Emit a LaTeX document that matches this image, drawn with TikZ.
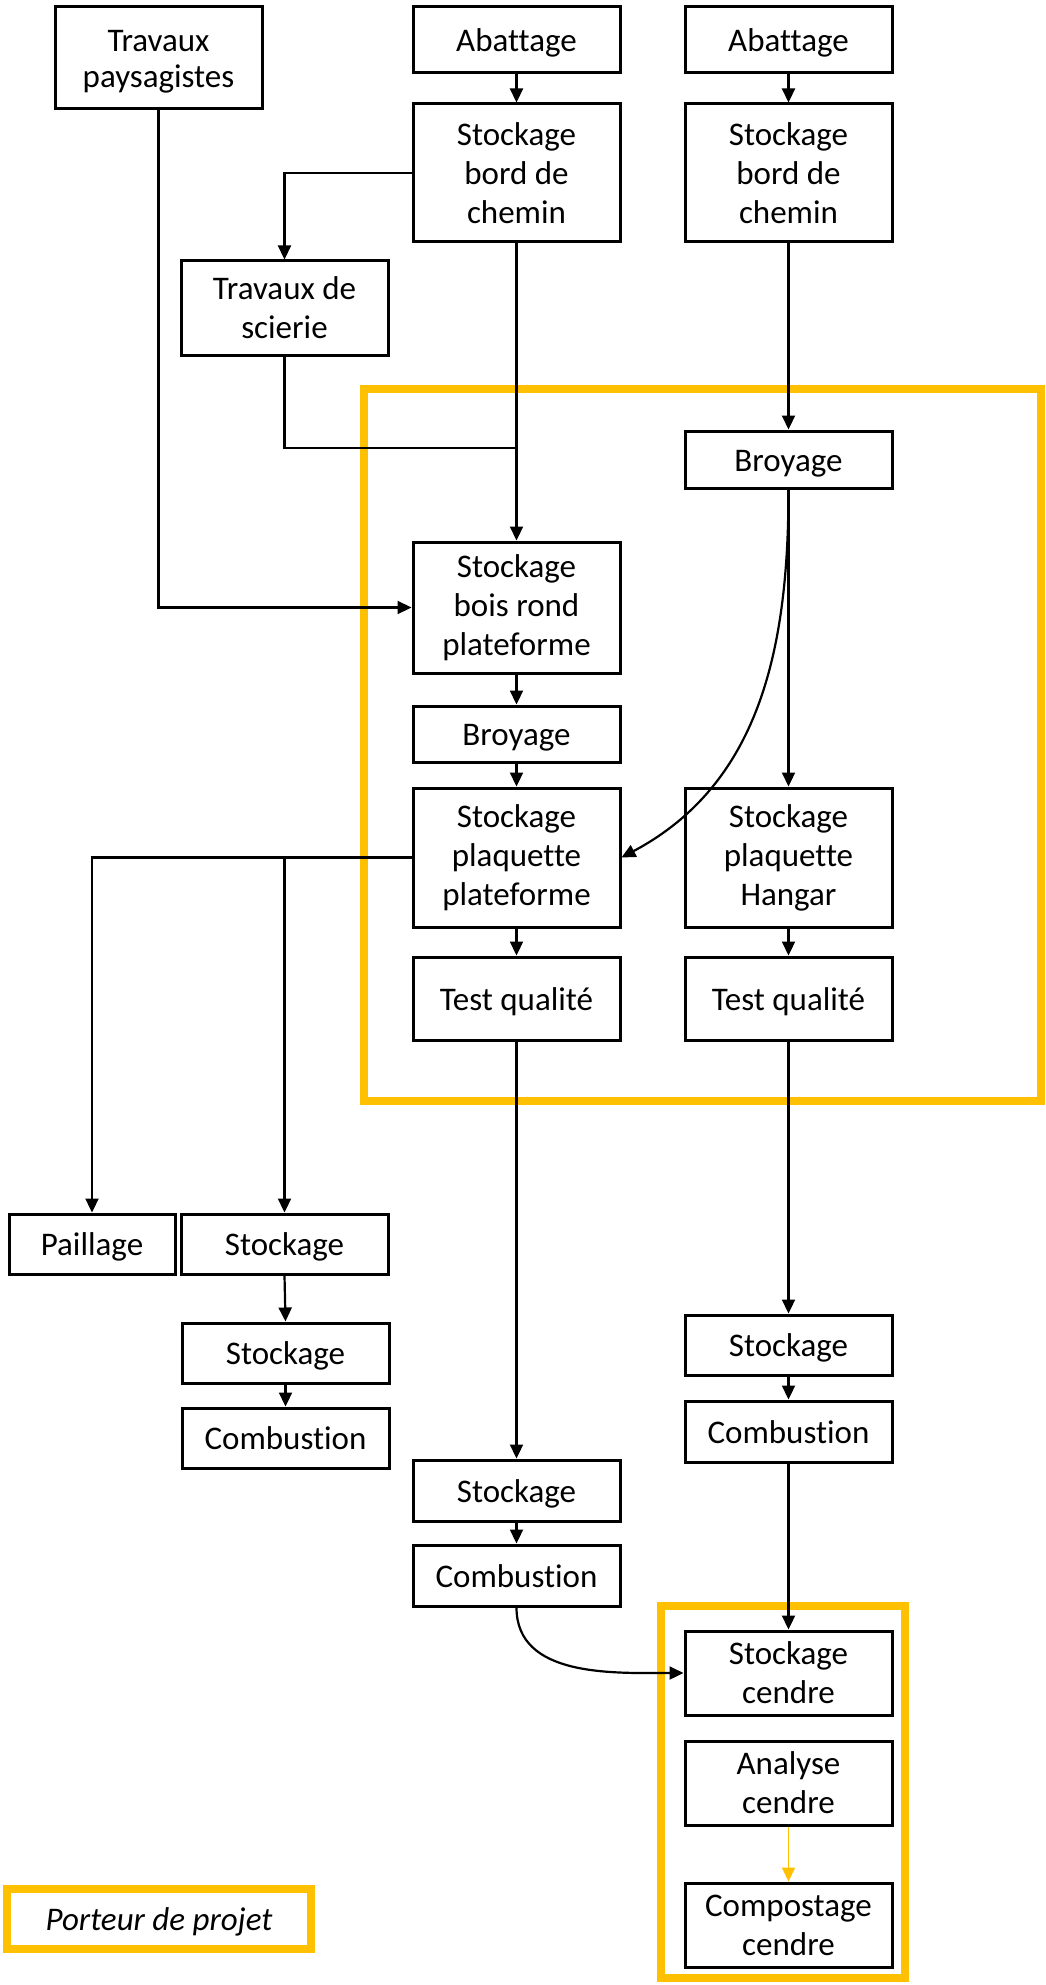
\documentclass[tikz,border=0pt]{standalone}
\usepackage{fontspec}
\setmainfont{Carlito}[Ligatures={NoCommon}]
\usetikzlibrary{arrows.meta,calc}
\definecolor{gold}{HTML}{FFC000}
\newcommand\bx[6]{\node[box, minimum width={(#4-#2)*0.5pt}, minimum height={(#5-#3)*0.5pt}] (#1) at ({(#2+#4)/2},{(#3+#5)/2}) {#6};}
\newcommand\bxo[6]{\node[box, minimum width={(#4-#2)*0.5pt}, minimum height={(#5-#3)*0.5pt}] (#1) at ({(#2+#4)/2},{(#3+#5)/2}) {\lowstrut#6};}
\newcommand\lowstrut{\rule[-0.2em]{0pt}{1.12em}}
\begin{document}
\begin{tikzpicture}[x=0.5pt,y=-0.5pt,
  box/.style={draw, line width=1.5pt, inner sep=0pt, align=center, font=\fontsize{16.5}{19.5}\selectfont},
  arr/.style={line width=1.1pt, -{Triangle[length=7pt,width=6.5pt]}},
  lin/.style={line width=1.1pt},
  gbox/.style={draw=gold, line width=4pt}]
\useasboundingbox (0,0) rectangle (1045,1985);
% yellow frames
\draw[gbox] (364,389) rectangle (1041,1101);
\draw[gbox] (661,1606) rectangle (905,1978);
\node[gbox, minimum width={304*0.5pt}, minimum height={60*0.5pt}, inner sep=0pt, font=\fontsize{16.5}{19.5}\selectfont\itshape] (leg) at (159,1919) {\lowstrut Porteur de projet};
% boxes
\bx{tp}{55}{7}{262}{109}{\rule[-0.25em]{0pt}{1.1em}Travaux\\[-1.5pt]paysagistes}
\bxo{abA}{413}{7}{620}{73}{Abattage}
\bxo{abB}{685}{7}{892}{73}{Abattage}
\bx{sbcA}{413}{104}{620}{242}{Stockage\\bord de\\chemin}
\bx{sbcB}{685}{104}{892}{242}{Stockage\\bord de\\chemin}
\bx{tds}{181}{261}{388}{355}{Travaux de\\scierie}
\bxo{brB}{685}{431}{892}{488}{Broyage}
\bx{sbr}{413}{542}{620}{673}{Stockage\\bois rond\\plateforme}
\bxo{brA}{413}{706}{620}{762}{Broyage}
\bx{spp}{413}{788}{620}{927}{Stockage\\plaquette\\plateforme}
\bx{sph}{685}{788}{892}{927}{Stockage\\plaquette\\Hangar}
\bxo{tqA}{413}{957}{620}{1040}{Test qualité}
\bxo{tqB}{685}{957}{892}{1040}{Test qualité}
\bxo{pai}{9}{1214}{175}{1274}{Paillage}
\bxo{stLa}{181}{1214}{388}{1274}{Stockage}
\bxo{stLb}{182}{1323}{389}{1383}{Stockage}
\bxo{coL}{182}{1408}{389}{1468}{Combustion}
\bxo{stA}{413}{1460}{620}{1521}{Stockage}
\bxo{coA}{413}{1545}{620}{1606}{Combustion}
\bxo{stB}{685}{1315}{892}{1375}{Stockage}
\bxo{coB}{685}{1401}{892}{1462}{Combustion}
\bx{stc}{685}{1631}{892}{1715}{Stockage\\cendre}
\bx{anc}{685}{1741}{892}{1825}{Analyse\\cendre}
\bx{coc}{685}{1883}{892}{1967}{Compostage\\cendre}
% connectors
\draw[arr] (abA) -- (sbcA);
\draw[arr] (abB) -- (sbcB);
\draw[arr] (sbcA.west) -| (tds.north);
\draw[arr] (sbcA) -- (sbr);
\coordinate (j1) at (516.5,448);
\draw[lin] (tds.south) |- (j1);
\draw[arr] (tp.south) |- (sbr.west);
\draw[arr] (sbcB) -- (brB);
\draw[arr] (brB) -- (sph);
\draw[arr] (brB.south) to[out=-90,in=28] (spp.east);
\draw[arr] (sbr) -- (brA);
\draw[arr] (brA) -- (spp);
\draw[arr] (spp) -- (tqA);
\draw[arr] (sph) -- (tqB);
\draw[arr] (spp.west) -| (pai.north);
\coordinate (j2) at (stLa.north |- spp.west);
\draw[arr] (j2) -- (stLa.north);
\draw[arr] (stLa.south) -- (stLb.north);
\draw[arr] (stLb) -- (coL);
\draw[arr] (tqA) -- (stA);
\draw[arr] (stA) -- (coA);
\draw[arr] (tqB) -- (stB);
\draw[arr] (stB) -- (coB);
\draw[arr] (coB) -- (stc);
\draw[arr] (coA.south) to[out=-90,in=180] (stc.west);
\draw[arr, draw=gold, fill=gold, line width=0.9pt] (anc) -- (coc);
\end{tikzpicture}
\end{document}
